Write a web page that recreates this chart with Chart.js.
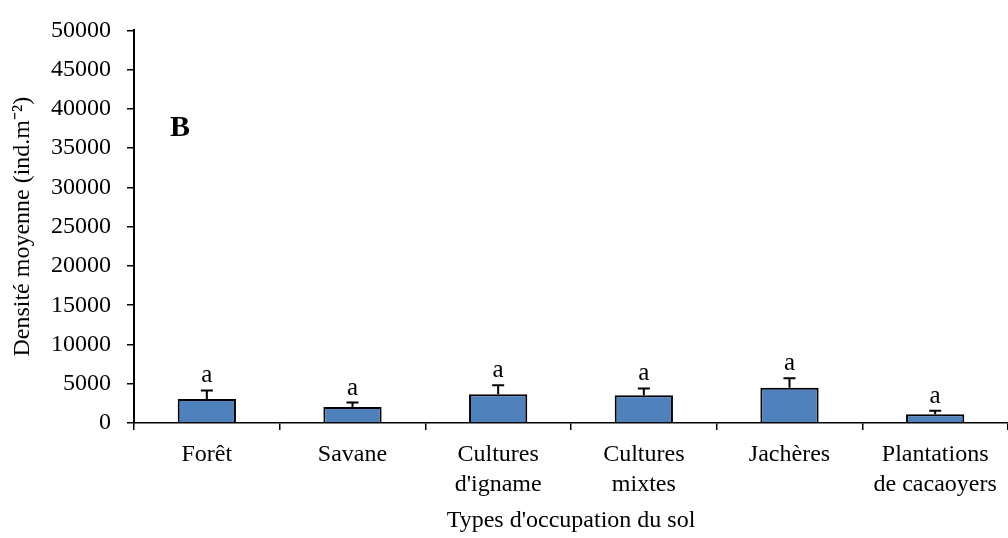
<!DOCTYPE html>
<html>
<head>
<meta charset="utf-8">
<script src="https://cdn.jsdelivr.net/npm/chart.js@4"></script>
<style>
  html, body { margin: 0; padding: 0; background: #fff; }
  #wrap { width: 1008px; height: 538px; }
</style>
</head>
<body>
<div id="wrap"><canvas id="chart"></canvas></div>
<script>
// --- Data ---
const categories = [
    ['Forêt'],
    ['Savane'],
    ['Cultures', "d'igname"],
    ['Cultures', 'mixtes'],
    ['Jachères'],
    ['Plantations', 'de cacaoyers']
];
const densite = [3050, 2050, 3650, 3550, 4500, 1100];
const erreurs = [1100, 550, 1150, 850, 1200, 450];
const lettres = ['a', 'a', 'a', 'a', 'a', 'a'];
const yTicks = [0, 5000, 10000, 15000, 20000, 25000, 30000, 35000, 40000, 45000, 50000];

const serif = '"Liberation Serif", "Times New Roman", serif';
Chart.defaults.font.family = serif;
Chart.defaults.color = '#000';

// --- Error bars + letters ---
const errorBarPlugin = {
    id: 'errorBars',
    afterDatasetsDraw(chart) {
        const ctx = chart.ctx;
        const meta = chart.getDatasetMeta(0);
        const y = chart.scales.y;
        ctx.save();
        ctx.strokeStyle = '#000';
        ctx.lineWidth = 2;
        meta.data.forEach((bar, i) => {
            const top = y.getPixelForValue(densite[i] + erreurs[i]);
            ctx.beginPath();
            ctx.moveTo(bar.x, bar.y);
            ctx.lineTo(bar.x, top);
            ctx.moveTo(bar.x - 6, top);
            ctx.lineTo(bar.x + 6, top);
            ctx.stroke();
            ctx.fillStyle = '#000';
            ctx.font = '25px ' + serif;
            ctx.textAlign = 'center';
            ctx.textBaseline = 'alphabetic';
            ctx.fillText(lettres[i], bar.x, top - 8);
        });
        // panel letter
        ctx.font = 'bold 30px ' + serif;
        ctx.textAlign = 'left';
        ctx.textBaseline = 'alphabetic';
        ctx.fillText('B', 170, 136);
        ctx.restore();
    }
};

new Chart(document.getElementById('chart'), {
    type: 'bar',
    data: {
        labels: categories,
        datasets: [{
            data: densite,
            backgroundColor: '#4F81BD',
            borderColor: '#000',
            borderWidth: 2,
            barPercentage: 0.4,
            categoryPercentage: 1
        }]
    },
    options: {
        responsive: true,
        maintainAspectRatio: false,
        animation: false,
        layout: { padding: { top: 19, right: 0, left: 0, bottom: 0 } },
        plugins: {
            legend: { display: false },
            tooltip: { enabled: false }
        },
        scales: {
            x: {
                grid: { drawOnChartArea: false, color: '#000', tickLength: 7, lineWidth: 1.5 },
                border: { color: '#000', width: 1.5 },
                ticks: { font: { size: 24, lineHeight: 1.25 }, padding: 10, maxRotation: 0, autoSkip: false },
                title: { display: true, text: "Types d'occupation du sol", font: { size: 24, lineHeight: 1.25 }, padding: { top: 0, bottom: 2 } },
                afterFit(scale) { scale.height = 115; }
            },
            y: {
                min: 0,
                max: 50000,
                afterBuildTicks(scale) { scale.ticks = yTicks.map(v => ({ value: v })); },
                grid: { drawOnChartArea: false, color: '#000', tickLength: 7, lineWidth: 1.5 },
                border: { color: '#000', width: 2 },
                ticks: { font: { size: 24 }, padding: 16, callback: v => String(v) },
                title: { display: true, text: 'Densité moyenne (ind.m⁻²)', font: { size: 24, lineHeight: 1.25 }, padding: { top: 8, bottom: 0 } },
                afterFit(scale) { scale.width = 134; }
            }
        }
    },
    plugins: [errorBarPlugin]
});
</script>
</body>
</html>
